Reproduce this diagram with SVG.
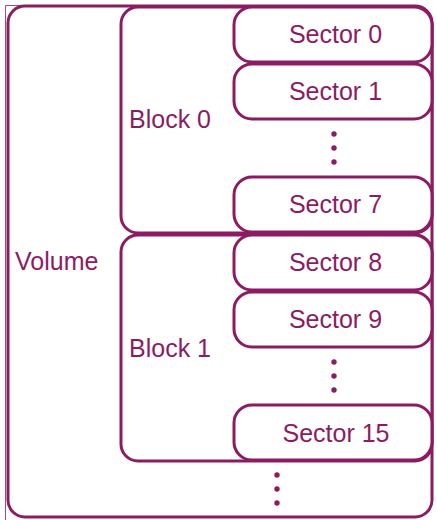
<svg xmlns="http://www.w3.org/2000/svg" width="437" height="520" viewBox="0 0 437 520">
<style>
.box{fill:#fff;stroke:#8c1c62;stroke-width:3}
.lbl{font-family:"Liberation Sans",Arial,sans-serif;font-size:25px;fill:#8c1c62}
.mid{text-anchor:middle}
.dot{fill:#8c1c62}
.thin{stroke:#a04a80;stroke-width:1;fill:none}
</style>
<rect width="437" height="520" fill="#fff"/>
<path class="thin" d="M5.5,520 V5.5 H415"/>
<g id="volume">
<rect class="box" x="8" y="6" width="424" height="511" rx="17"/>
<text class="lbl" x="15" y="270">Volume</text>
</g>
<g id="block0">
<rect class="box" x="121" y="7" width="311" height="226" rx="17"/>
<text class="lbl" x="129" y="128">Block 0</text>
</g>
<g id="block1">
<rect class="box" x="121" y="235" width="311" height="226" rx="17"/>
<text class="lbl" x="129" y="357">Block 1</text>
</g>
<g id="sector0"><rect class="box" x="234" y="7" width="198" height="55" rx="18"/><text class="lbl mid" x="335.5" y="43">Sector 0</text></g>
<g id="sector1"><rect class="box" x="234" y="64" width="198" height="55" rx="18"/><text class="lbl mid" x="335.5" y="100">Sector 1</text></g>
<g id="sector7"><rect class="box" x="234" y="177" width="198" height="55" rx="18"/><text class="lbl mid" x="335.5" y="213">Sector 7</text></g>
<g id="sector8"><rect class="box" x="234" y="235" width="198" height="55" rx="18"/><text class="lbl mid" x="335.5" y="271">Sector 8</text></g>
<g id="sector9"><rect class="box" x="234" y="292" width="198" height="55" rx="18"/><text class="lbl mid" x="335.5" y="328">Sector 9</text></g>
<g id="sector15"><rect class="box" x="234" y="405" width="198" height="55" rx="18"/><text class="lbl mid" x="336" y="442">Sector 15</text></g>
<g id="dots">
<circle class="dot" cx="334" cy="134" r="2.7"/><circle class="dot" cx="334" cy="148" r="2.7"/><circle class="dot" cx="334" cy="162" r="2.7"/>
<circle class="dot" cx="334" cy="362" r="2.7"/><circle class="dot" cx="334" cy="376" r="2.7"/><circle class="dot" cx="334" cy="390" r="2.7"/>
<circle class="dot" cx="277" cy="475" r="2.7"/><circle class="dot" cx="277" cy="489" r="2.7"/><circle class="dot" cx="277" cy="503" r="2.7"/>
</g>
</svg>
